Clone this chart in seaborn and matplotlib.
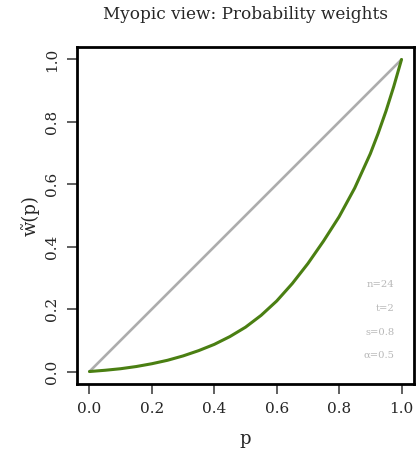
import numpy as np
import pandas as pd
import matplotlib
matplotlib.use("Agg")
import matplotlib.pyplot as plt
import seaborn as sns

# Data
p_values = [0.0, 0.05, 0.10, 0.15, 0.20, 0.25, 0.30, 0.35, 0.40, 0.45, 0.50,
            0.55, 0.60, 0.65, 0.70, 0.75, 0.80, 0.85, 0.90, 0.925, 0.95, 0.975, 1.0]
w_values = [0.0, 0.004, 0.009, 0.016, 0.025, 0.036, 0.050, 0.067, 0.087, 0.112, 0.142,
            0.180, 0.226, 0.282, 0.346, 0.418, 0.496, 0.588, 0.698, 0.763, 0.834, 0.913, 1.0]
diag_x = [0.0, 1.0]
diag_y = [0.0, 1.0]
ticks = [0.0, 0.2, 0.4, 0.6, 0.8, 1.0]
tick_labels = ["0.0", "0.2", "0.4", "0.6", "0.8", "1.0"]
param_labels = ["n=24", "t=2", "s=0.8", "α=0.5"]
param_y = [0.279, 0.202, 0.125, 0.051]

sns.set_theme(style="white")
plt.rcParams['font.family'] = ['DejaVu Serif', 'DejaVu Sans']

fig = plt.figure(figsize=(4.16, 4.49), dpi=100)
ax = fig.add_axes([77/416, 1 - 384/449, (414 - 77)/416, (384 - 47)/449])

curve = pd.DataFrame({"p": p_values, "w": w_values})
diag = pd.DataFrame({"p": diag_x, "w": diag_y})
sns.lineplot(data=diag, x="p", y="w", ax=ax, color="#ADADAD", linewidth=1.9)
sns.lineplot(data=curve, x="p", y="w", ax=ax, color="#4A7F12", linewidth=2.2)

ax.set_xlim(-0.04, 1.04)
ax.set_ylim(-0.04, 1.04)
ax.set_xticks(ticks)
ax.set_xticklabels(tick_labels, fontsize=11)
ax.set_yticks(ticks)
ax.set_yticklabels(tick_labels, fontsize=11, rotation=90, va="center")
ax.tick_params(axis="both", direction="out", length=7, width=1.2, color="#444444",
               pad=6, bottom=True, left=True)
for s in ax.spines.values():
    s.set_color("black")
    s.set_linewidth(2)

ax.set_xlabel("p", fontsize=13, labelpad=10)
ax.set_ylabel("w\u0303(p)", fontsize=13, labelpad=4)
ax.set_title("Myopic view: Probability weights", fontsize=12.2, pad=20)

for lab, yy in zip(param_labels, param_y):
    ax.text(0.977, yy, lab, ha="right", va="center", fontsize=7.2, color="#B8B8B8")

fig.savefig("out.png", dpi=100)
